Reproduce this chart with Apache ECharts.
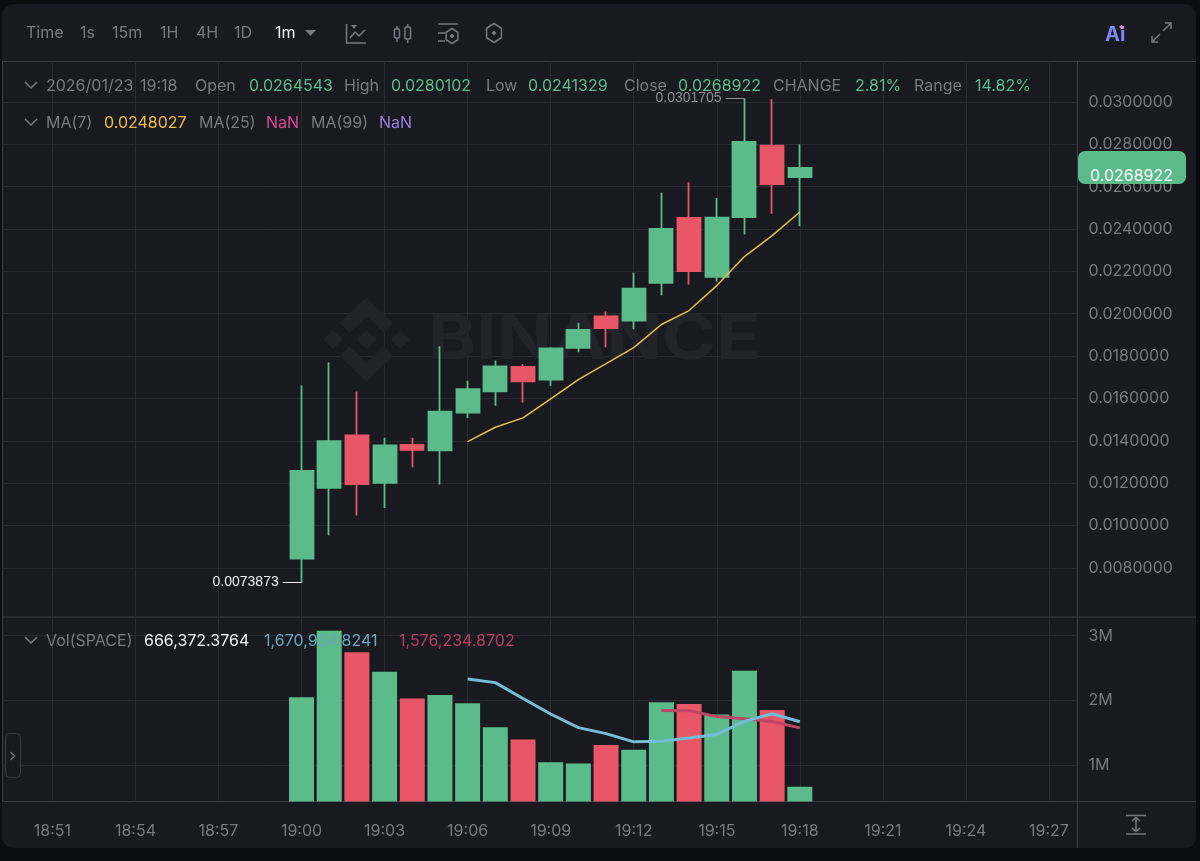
<!DOCTYPE html>
<html>
<head>
<meta charset="utf-8">
<title>SPACE 1m</title>
<style>
  html, body { margin: 0; height: 100%; background: #0b0c10; }
  #charts { width: 1200px; height: 861px; }
</style>
<script src="https://cdn.jsdelivr.net/npm/echarts@6/dist/echarts.min.js"></script>
</head>
<body>
<div id="charts"></div>
<script>
const times = ['19:00','19:01','19:02','19:03','19:04','19:05','19:06','19:07','19:08','19:09','19:10','19:11','19:12','19:13','19:14','19:15','19:16','19:17','19:18'];
const opens = [0.00844,0.01178,0.01425,0.01201,0.01381,0.01355,0.01533,0.01634,0.01749,0.01689,0.01839,0.01987,0.01967,0.02146,0.02453,0.02174,0.02456,0.02794,0.0264543];
const closes = [0.01258,0.01398,0.01195,0.01378,0.01357,0.01538,0.01644,0.01751,0.01681,0.01836,0.01924,0.01932,0.02118,0.02401,0.02201,0.02454,0.02812,0.02612,0.0268922];
const lows = [0.00731,0.00954,0.01047,0.01083,0.01275,0.01193,0.01507,0.01566,0.01581,0.01660,0.01818,0.01842,0.01927,0.02087,0.02138,0.02152,0.02374,0.02472,0.0241329];
const highs = [0.01661,0.01770,0.01633,0.01414,0.01414,0.01846,0.01684,0.01779,0.01763,0.01842,0.01957,0.02010,0.02193,0.02571,0.02621,0.02547,0.0301705,0.03013,0.0280102];
const ma7 = [null,null,null,null,null,null,0.01396,0.01464,0.01508,0.01598,0.01689,0.01764,0.01840,0.01949,0.02015,0.02133,0.02270,0.02369,0.0248027];

const volumes = [2.049,3.077,2.744,2.444,2.028,2.085,1.957,1.586,1.395,1.046,1.025,1.313,1.236,1.972,1.946,1.781,2.460,1.853,0.666];
const volMa7 = [null,null,null,null,null,null,2.332,2.275,2.03,1.79,1.58,1.487,1.36,1.368,1.419,1.474,1.676,1.794,1.671];
const volMa14 = [null,null,null,null,null,null,null,null,null,null,null,null,null,1.843,1.84,1.75,1.715,1.675,1.576];

const timeTicks = ['18:51','18:54','18:57','19:00','19:03','19:06','19:09','19:12','19:15','19:18','19:21','19:24','19:27'];
const priceTicks = [0.008,0.01,0.012,0.014,0.016,0.018,0.02,0.022,0.024,0.026,0.028,0.03];
const volTicks = [1,2,3];
const highLabel = '0.0301705';
const lowLabel = '0.0073873';

const GREEN = '#5cbb8b', RED = '#e85667', GRID = '#282a30', EDGE = '#3b3d45', GRAY = '#767a82';
const FONT = 'Inter, "Noto Sans", sans-serif';

const toMin = t => { const p = t.split(':'); return +p[0] * 60 + +p[1]; };
const fromMin = m => String(Math.floor(m / 60)).padStart(2, '0') + ':' + String(Math.round(m % 60)).padStart(2, '0');
const pairs = arr => arr.map((v, i) => [toMin(times[i]), v]).filter(p => p[1] !== null);

const highIdx = highs.indexOf(Math.max(...highs));
const lowIdx = lows.indexOf(Math.min(...lows));

// header rows: [text, x, colour]
const row1 = [['2026/01/23',46,GRAY],['19:18',140,GRAY],['Open',195,GRAY],['0.0264543',249,GREEN],['High',344,GRAY],['0.0280102',391,GREEN],['Low',486,GRAY],['0.0241329',528,GREEN],['Close',624,GRAY],['0.0268922',678,GREEN],['CHANGE',773,GRAY],['2.81%',855,GREEN],['Range',914,GRAY],['14.82%',975,GREEN]];
const row2 = [['MA(7)',46,GRAY],['0.0248027',104,'#eebc45'],['MA(25)',199,GRAY],['NaN',266,'#d9459c'],['MA(99)',311,GRAY],['NaN',379,'#9a7be0']];
const row3 = [['Vol(SPACE)',46,GRAY],['666,372.3764',144,'#f2f3f5'],['1,670,934.8241',264,'#6aa6bd'],['1,576,234.8702',399,'#b63f5c']];
const toolbar = [['Time',26,GRAY],['1s',80,GRAY],['15m',112,GRAY],['1H',160,GRAY],['4H',196,GRAY],['1D',234,GRAY],['1m',275,'#f2f3f5']];

// watermark logo outline, in its own 127 unit box
const logoParts = [
  [[38.73,53.2],[63.32,28.62],[87.92,53.22],[102.22,38.91],[63.32,0],[24.42,38.9]],
  [[0,63.31],[14.3,49],[28.61,63.31],[14.3,77.61]],
  [[38.73,73.41],[63.32,98],[87.92,73.4],[102.23,87.69],[63.33,126.6],[24.42,87.72]],
  [[98.03,63.31],[112.33,49],[126.64,63.31],[112.33,77.61]],
  [[77.83,63.3],[63.32,48.78],[48.81,63.28],[63.32,77.78]]
];

function label(item, y) {
  return {type:'text', z:100, x:item[1], y:y, silent:true,
    style:{text:item[0], fill:item[2], font:'16px ' + FONT, textVerticalAlign:'middle'}};
}
function stroke(points, color, width) {
  return {type:'polyline', z:100, silent:true, shape:{points:points},
    style:{stroke:color || GRAY, lineWidth:width || 1.5, fill:null}};
}
function seg(x1, y1, x2, y2, color, width) {
  return {type:'line', z:width === 1 ? 0 : 100, silent:true, shape:{x1,y1,x2,y2},
    style:{stroke:color || GRAY, lineWidth:width || 1.5}};
}
function chevron(y) { return stroke([[25,y-3],[31,y+3],[37,y-3]]); }
function hexagon(cx, cy, r) {
  const pts = [];
  for (let i = 0; i < 7; i++) {
    const a = Math.PI / 2 + i * Math.PI / 3;
    pts.push([cx + r * 0.9 * Math.cos(a), cy + r * Math.sin(a)]);
  }
  return stroke(pts);
}

const graphics = [
  {type:'rect', z:-10, silent:true, shape:{x:2,y:4,width:1194,height:844,r:11}, style:{fill:'#191a1f'}},
  // watermark
  {type:'text', z:1, silent:true, x:428, y:340, scaleX:1.176,
    style:{text:'BINANCE', fill:'#212329', font:'bold 62px ' + FONT, textVerticalAlign:'middle'}},
  // frame lines
  seg(2,61.5,1196,61.5,EDGE,1), seg(2,617,1196,617,EDGE,1), seg(2,801.5,1196,801.5,EDGE,1),
  seg(1077.5,61,1077.5,848,EDGE,1), seg(2.5,61,2.5,801,EDGE,1),
  // price tag
  {type:'rect', z:90, silent:true, shape:{x:1078,y:151,width:108,height:33,r:7}, style:{fill:GREEN}},
  {type:'text', z:100, silent:true, x:1090, y:176,
    style:{text:'0.0268922', fill:'#ffffff', font:'16px ' + FONT, textVerticalAlign:'middle'}},
  // toolbar arrow and icons
  {type:'polygon', z:100, silent:true, shape:{points:[[305,30],[316,30],[310.5,36]]}, style:{fill:GRAY}},
  stroke([[346.5,24],[346.5,43],[366,43]]), stroke([[350,38],[355,32],[359,36],[365,30]]),
  {type:'polygon', z:100, silent:true, shape:{points:[[351,25],[357,25],[354,29]]}, style:{fill:GRAY}},
  {type:'rect', z:100, silent:true, shape:{x:394.5,y:29,width:5,height:9,r:1}, style:{stroke:GRAY,lineWidth:1.5,fill:null}},
  {type:'rect', z:100, silent:true, shape:{x:405,y:27,width:5.5,height:12,r:1}, style:{stroke:GRAY,lineWidth:1.5,fill:null}},
  seg(397,26,397,29), seg(397,38,397,42), seg(407.7,24,407.7,27), seg(407.7,39,407.7,43),
  seg(438,24,458,24), seg(438,33,445,33), seg(438,41,445,41), hexagon(452,36,7.5),
  {type:'polygon', z:100, silent:true, shape:{points:[[452,33.5],[454.5,36],[452,38.5],[449.5,36]]}, style:{fill:GRAY}},
  hexagon(494,33,9.5),
  {type:'polygon', z:100, silent:true, shape:{points:[[494,30.5],[496.5,33],[494,35.5],[491.5,33]]}, style:{fill:GRAY}},
  {type:'text', z:100, silent:true, x:1105, y:35,
    style:{text:'Ai', fill:'#7c88f6', font:'bold 20px ' + FONT, textVerticalAlign:'middle'}},
  seg(1121.5,25,1121.5,29,'#e59ad0',1.6), seg(1119.5,27,1123.5,27,'#e59ad0',1.6),
  seg(1152,42,1160,34), stroke([[1152,36],[1152,42],[1158,42]]),
  seg(1163,31,1171,23), stroke([[1165,23],[1171,23],[1171,29]]),
  // handle on the left
  {type:'rect', z:100, silent:true, shape:{x:5.5,y:733.5,width:15,height:44,r:4}, style:{stroke:EDGE,lineWidth:1,fill:'#191a1f'}},
  stroke([[10.5,752],[14.5,756],[10.5,760]],GRAY,1.2),
  // bottom right icon
  seg(1126,815.5,1146,815.5), seg(1126,834,1146,834), seg(1136,818,1136,831),
  stroke([[1132,821],[1136,817.5],[1140,821]]), stroke([[1132,828],[1136,831.5],[1140,828]]),
  chevron(85), chevron(122), chevron(640)
];
logoParts.forEach(part => graphics.push({type:'polygon', z:1, silent:true,
  shape:{points:part.map(p => [323 + p[0] * 0.687, 297 + p[1] * 0.671])}, style:{fill:'#212329'}}));
row1.forEach(i => graphics.push(label(i, 86)));
row2.forEach(i => graphics.push(label(i, 123)));
row3.forEach(i => graphics.push(label(i, 641)));
toolbar.forEach(i => graphics.push(label(i, 33.5)));

const myChart = echarts.init(document.getElementById('charts'), null, {renderer:'canvas'});

const xBase = {
  type:'value', min:1129.18, max:1168.03,
  axisLine:{show:false},
  splitLine:{show:true, lineStyle:{color:GRID, width:1}}
};
const tickMins = timeTicks.map(toMin);

const option = {
  backgroundColor:'transparent',
  animation:false,
  graphic:{elements:graphics},
  grid:[
    {left:2, right:122.5, top:61.5, height:555.5},
    {left:2, right:122.5, top:617, height:184.5}
  ],
  xAxis:[
    Object.assign({}, xBase, {gridIndex:0,
      axisTick:{show:false, customValues:tickMins},
      axisLabel:{show:false, customValues:tickMins}}),
    Object.assign({}, xBase, {gridIndex:1,
      axisTick:{show:false, customValues:tickMins},
      axisLabel:{customValues:tickMins, formatter:v => fromMin(v), color:GRAY, margin:22, fontFamily:'Inter', fontSize:16}})
  ],
  yAxis:[
    {type:'value', gridIndex:0, position:'right', min:0.005677, max:0.031913, scale:true,
      axisLine:{show:false},
      axisTick:{show:false, customValues:priceTicks},
      axisLabel:{customValues:priceTicks, formatter:v => v.toFixed(7), color:GRAY, margin:11, padding:[2,0,0,0], fontFamily:'Inter', fontSize:16},
      splitLine:{show:true, lineStyle:{color:GRID, width:1}}},
    {type:'value', gridIndex:1, position:'right', min:0.438, max:3.289, scale:true,
      axisLine:{show:false},
      axisTick:{show:false, customValues:volTicks},
      axisLabel:{customValues:volTicks, formatter:v => v + 'M', color:GRAY, margin:11, padding:[3,0,0,0], fontFamily:'Inter', fontSize:16},
      splitLine:{show:true, lineStyle:{color:GRID, width:1}}}
  ],
  series:[
    {type:'candlestick', xAxisIndex:0, yAxisIndex:0, barWidth:23.5, z:3,
      encode:{x:0, y:[1,2,3,4]},
      data:times.map((t, i) => [toMin(t), opens[i], closes[i], lows[i], highs[i]]),
      itemStyle:{color:GREEN, color0:RED, borderColor:GREEN, borderColor0:RED, borderWidth:1.8},
      markPoint:{symbol:'circle', symbolSize:0, silent:true, data:[
        {coord:[toMin(times[highIdx]) - 0.68, highs[highIdx]], label:{show:true, position:'left', distance:4, formatter:highLabel, color:'#8b8e95', fontFamily:'"Liberation Sans"', fontSize:14}},
        {coord:[toMin(times[lowIdx]) - 0.68, lows[lowIdx]], label:{show:true, position:'left', distance:4, formatter:lowLabel, color:'#f0f1f3', fontFamily:'"Liberation Sans"', fontSize:14}}
      ]},
      markLine:{symbol:'none', silent:true, animation:false, label:{show:false}, data:[
        [{coord:[toMin(times[highIdx]) - 0.68, highs[highIdx]], lineStyle:{color:'#8b8e95', width:1, type:'solid'}}, {coord:[toMin(times[highIdx]), highs[highIdx]]}],
        [{coord:[toMin(times[lowIdx]) - 0.68, lows[lowIdx]], lineStyle:{color:'#f0f1f3', width:1, type:'solid'}}, {coord:[toMin(times[lowIdx]), lows[lowIdx]]}]
      ]}
    },
    {type:'line', name:'MA(7)', xAxisIndex:0, yAxisIndex:0, z:4, data:pairs(ma7), showSymbol:false,
      lineStyle:{color:'#e8bf4b', width:1.5}},
    {type:'bar', xAxisIndex:1, yAxisIndex:1, barWidth:25, z:2,
      data:volumes.map((v, i) => ({value:[toMin(times[i]), v],
        itemStyle:{color:closes[i] >= opens[i] ? GREEN : RED}}))},
    {type:'line', name:'Vol MA14', xAxisIndex:1, yAxisIndex:1, z:4, data:pairs(volMa14), showSymbol:false,
      lineStyle:{color:'#bf4566', width:3}},
    {type:'line', name:'Vol MA7', xAxisIndex:1, yAxisIndex:1, z:5, data:pairs(volMa7), showSymbol:false,
      lineStyle:{color:'#74bdd6', width:3}}
  ]
};

myChart.setOption(option);
</script>
</body>
</html>
